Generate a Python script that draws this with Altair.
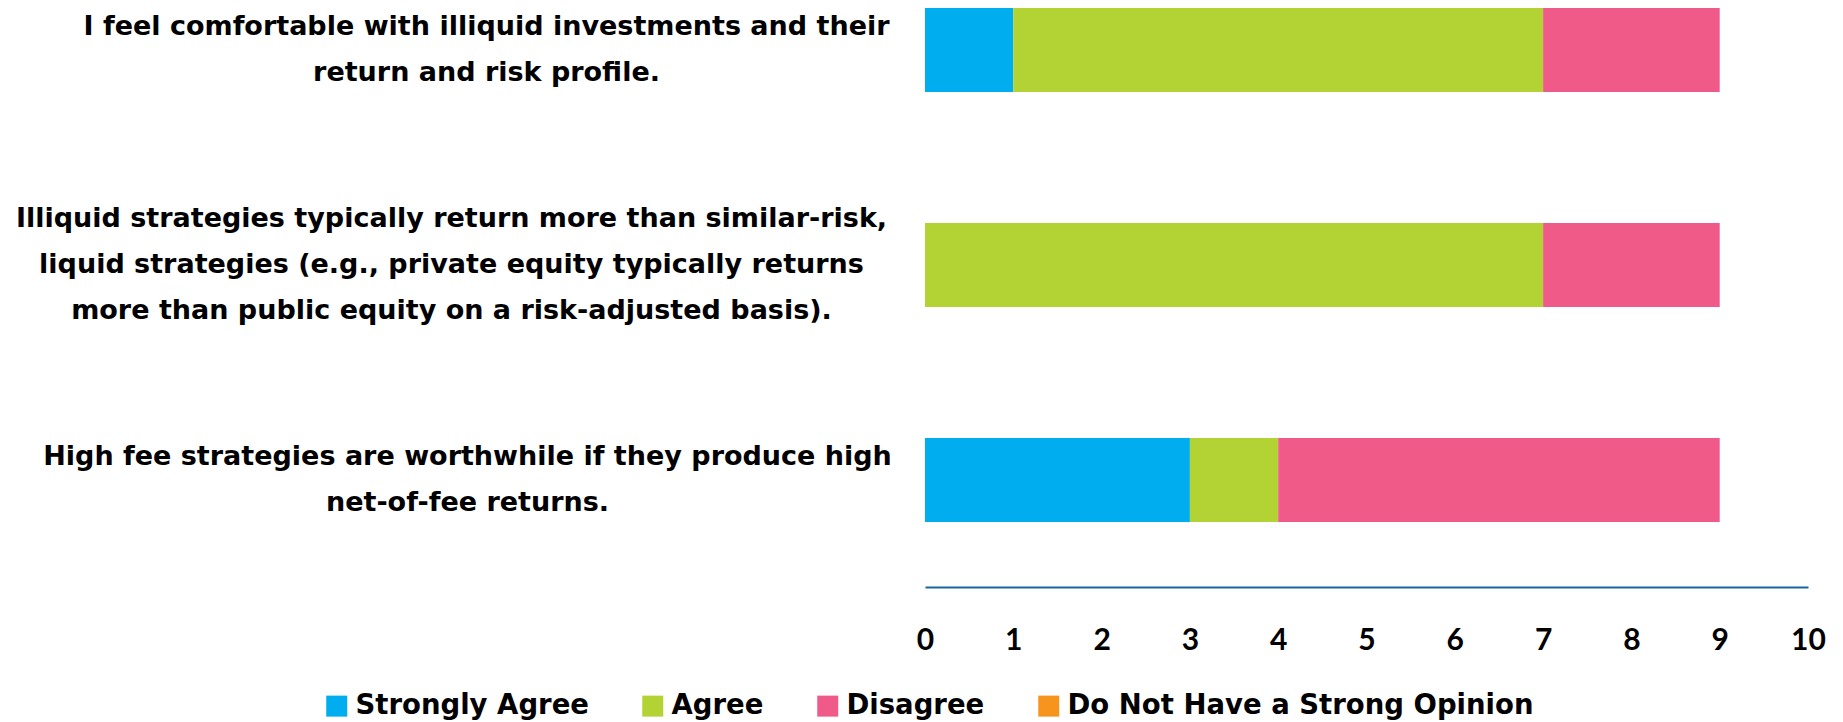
import altair as alt
import pandas as pd

questions = [
    "I feel comfortable with illiquid investments and their\nreturn and risk profile.",
    "Illiquid strategies typically return more than similar-risk,\nliquid strategies (e.g., private equity typically returns\nmore than public equity on a risk-adjusted basis).",
    "High fee strategies are worthwhile if they produce high\nnet-of-fee returns.",
]
responses = ["Strongly Agree", "Agree", "Disagree", "Do Not Have a Strong Opinion"]
colors = ["#00AEEF", "#B3D335", "#F05A89", "#F7941D"]
strongly_agree = [1, 0, 3]
agree = [6, 7, 1]
disagree = [2, 2, 5]
no_opinion = [0, 0, 0]
x_ticks = list(range(0, 11))

series = [strongly_agree, agree, disagree, no_opinion]
rows = []
for qi, q in enumerate(questions):
    for ri, r in enumerate(responses):
        v = series[ri][qi]
        if v > 0:
            rows.append({"question": q, "response": r, "count": v, "order": ri})
df = pd.DataFrame(rows)

text_font = "DejaVu Sans"
line_h = 46

chart = (
    alt.Chart(df)
    .mark_bar()
    .encode(
        x=alt.X(
            "count:Q",
            stack="zero",
            scale=alt.Scale(domain=[0, 10], nice=False),
            axis=alt.Axis(
                title=None,
                values=x_ticks,
                format="d",
                grid=False,
                ticks=False,
                tickSize=0,
                domainColor="#17659B",
                domainWidth=2,
                labelFont="Lato",
                labelFontSize=30,
                labelFontWeight="bold",
                labelColor="black",
                labelPadding=38,
                labelAngle=0,
                labelFlush=False,
                labelOverlap=False,
            ),
        ),
        y=alt.Y(
            "question:N",
            sort=questions,
            scale=alt.Scale(paddingInner=0.609, paddingOuter=0.151, align=0),
            axis=alt.Axis(
                title=None,
                domain=False,
                ticks=False,
                grid=False,
                labelExpr="split(datum.label, '\\n')",
                labelAlign="center",
                labelBaseline="middle",
                labelFont=text_font,
                labelFontSize=27,
                labelFontWeight="bold",
                labelColor="black",
                labelLineHeight=line_h,
                labelLimit=0,
                labelOffset={
                    "expr": f"-(length(split(datum.value, '\\n')) - 1) * {line_h / 2}"
                },
                labelPadding={
                    "expr": "indexof(datum.value, 'High fee') >= 0 ? 458 : (indexof(datum.value, 'Illiquid') == 0 ? 474 : 439)"
                },
            ),
        ),
        color=alt.Color(
            "response:N",
            scale=alt.Scale(domain=responses, range=colors),
            legend=alt.Legend(
                orient="none",
                legendX=-602,
                legendY=684,
                direction="horizontal",
                title=None,
                symbolType="square",
                symbolSize=441,
                symbolStrokeWidth=0,
                symbolOpacity=1,
                labelFont=text_font,
                labelFontSize=27.5,
                labelFontWeight="bold",
                labelColor="black",
                labelOffset=5,
                labelLimit=0,
                columnPadding=50,
                padding=0,
            ),
        ),
        order=alt.Order("order:Q"),
    )
    .properties(
        width=883,
        height=579,
        autosize=alt.AutoSizeParams(type="none"),
        padding={"left": 917, "top": 0, "right": 20, "bottom": 135},
    )
    .configure_view(stroke=None)
)

chart.save("out.html", embed_options={"renderer": "svg", "actions": False})
